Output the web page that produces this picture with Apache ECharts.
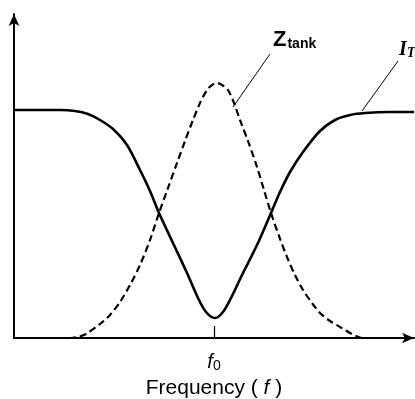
<!DOCTYPE html>
<html>
<head>
<meta charset="utf-8">
<script src="https://cdn.jsdelivr.net/npm/echarts@6/dist/echarts.min.js"></script>
<style>html,body{margin:0;padding:0;background:#fff}#c{width:415px;height:399px}</style>
</head>
<body>
<div id="c"></div>
<script>
// Frequency axis (arbitrary units, f0 at 200)
const iFreq = [0,26,46,61,74,86,99,113,126,136,145,159,173,184,192,201,209,217,228,243,257,266,276,289,306,321,336,351,376,400];
const iVals = [228,228,228,227,224,218,209,193,168,147,125,95,65,40,26,20,26,40,63,93,125,146,166,186,207,218,223,225,226,226];
const zFreq = [0,56,64,72,86,96,106,116,126,136,145,154,163,171,179,186,193,198,203,208,214,220,226,234,243,250,257,265,273,281,289,298,306,316,326,336,342,348,400];
const zVals = [0,0,1,4,14,23,36,53,73,98,125,150,175,197,218,235,248,253,255,253,248,235,218,197,171,148,125,102,81,63,48,35,25,17,11,5,2,0,0];
const f0 = 200;
const zLeader = [[256,284],[219,231]];
const iLeader = [[384,277],[348,227]];

const chart = echarts.init(document.getElementById('c'));
const pair = (xs, ys) => xs.map((x, i) => [x, ys[i]]);
chart.setOption({
  animation: false,
  grid: {left: 14, right: 1, top: 14, bottom: 61, containLabel: false, outerBoundsMode: 'none'},
  xAxis: {
    type: 'value', min: 0, max: 400,
    splitLine: {show: false},
    axisLine: {show: true, lineStyle: {color: '#000', width: 2}, symbol: ['none', 'arrow'], symbolSize: [8, 12]},
    axisTick: {show: true, inside: true, length: 12, customValues: [f0], lineStyle: {color: '#000', width: 1.2}},
    axisLabel: {
      customValues: [f0], margin: 14,
      formatter: () => '{i|f}{s|0}',
      rich: {
        i: {fontFamily: 'Liberation Sans', fontStyle: 'italic', fontSize: 20, color: '#000'},
        s: {fontFamily: 'Liberation Sans', fontSize: 14, color: '#000', verticalAlign: 'bottom', padding: [7, 0, 0, 0]}
      }
    },
    name: '{n|Frequency (}{i| f }{n|)}',
    nameLocation: 'middle', nameGap: 38,
    nameTextStyle: {
      rich: {
        n: {fontFamily: 'Liberation Sans', fontSize: 21, color: '#000'},
        i: {fontFamily: 'Liberation Sans', fontStyle: 'italic', fontSize: 21, color: '#000'}
      }
    }
  },
  yAxis: {
    type: 'value', min: 0, max: 324,
    splitLine: {show: false},
    axisLine: {show: true, lineStyle: {color: '#000', width: 2}, symbol: ['none', 'arrow'], symbolSize: [8, 12]},
    axisTick: {show: false}, axisLabel: {show: false}
  },
  series: [
    {
      type: 'line', data: pair(iFreq, iVals), smooth: 0.3, symbol: 'none',
      lineStyle: {color: '#000', width: 2.6},
      markLine: {silent: true, symbol: 'none', label: {show: false}, lineStyle: {color: '#000', width: 1, type: 'solid'},
        data: [[{coord: iLeader[0]}, {coord: iLeader[1]}]]}
    },
    {
      type: 'line', data: pair(zFreq, zVals), smooth: 0.3, symbol: 'none',
      lineStyle: {color: '#000', width: 2.2, type: [7, 4]},
      markLine: {silent: true, symbol: 'none', label: {show: false}, lineStyle: {color: '#000', width: 1, type: 'solid'},
        data: [[{coord: zLeader[0]}, {coord: zLeader[1]}]]}
    }
  ],
  graphic: [
    {type: 'text', left: 273, top: 29, style: {
      text: '{z|Z}{t|tank}',
      rich: {
        z: {fontFamily: 'Liberation Sans', fontWeight: 'bold', fontSize: 22, fill: '#000'},
        t: {fontFamily: 'Liberation Sans', fontWeight: 'bold', fontSize: 14, fill: '#000', verticalAlign: 'bottom', padding: [7, 0, 0, 1]}
      }}},
    {type: 'text', left: 399, top: 40, style: {
      text: '{i|I}{t|T}',
      rich: {
        i: {fontFamily: 'Liberation Serif', fontStyle: 'italic', fontWeight: 'bold', fontSize: 20, fill: '#000'},
        t: {fontFamily: 'Liberation Serif', fontStyle: 'italic', fontWeight: 'bold', fontSize: 14, fill: '#000', verticalAlign: 'bottom', padding: [6, 0, 0, 0]}
      }}}
  ]
});
</script>
</body>
</html>
